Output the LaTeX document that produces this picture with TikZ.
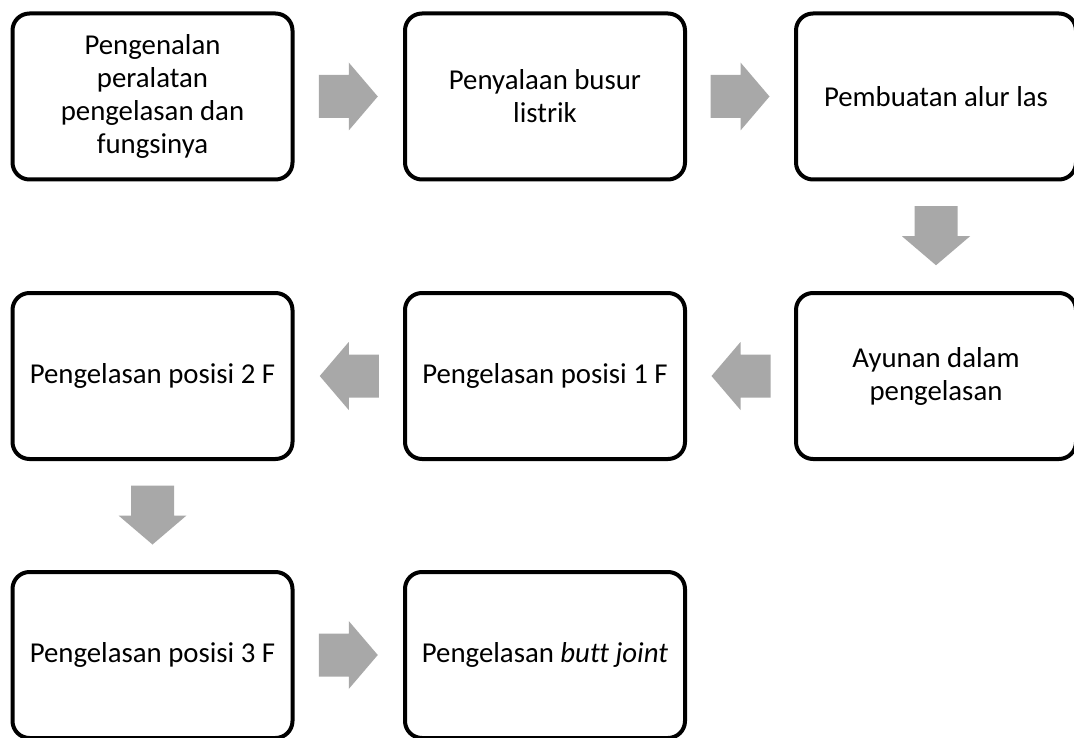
\documentclass[tikz,border=0pt]{standalone}
\usepackage{fontspec}
\setmainfont{Carlito}[Ligatures=NoCommon]
\usetikzlibrary{calc}
\definecolor{arrowgray}{RGB}{168,168,168}
\tikzset{
  stepbox/.style={draw=black, line width=4pt, rounded corners=17pt,
    minimum width=280pt, minimum height=166pt, align=center, fill=white,
    font=\fontsize{28.8}{33}\selectfont, inner sep=0pt},
  blockarrow/.pic={
    \fill[arrowgray] (-30,-21.5) -- (0,-21.5) -- (0,-34) -- (29,0)
      -- (0,34) -- (0,21.5) -- (-30,21.5) -- cycle;
  }
}
\begin{document}
\begin{tikzpicture}[x=1pt, y=-1pt]
  \useasboundingbox[fill=white] (0,0) rectangle (1074,738);

  % row 1
  \node[stepbox] (s1) at (152.5,96.5) {Pengenalan\\peralatan\\pengelasan dan\\fungsinya};
  \node[stepbox] (s2) at (545,96.5) {Penyalaan busur\\listrik};
  \node[stepbox] (s3) at (936,96.5) {Pembuatan alur las};
  % row 2
  \node[stepbox] (s4) at (936,376) {Ayunan dalam\\pengelasan};
  \node[stepbox] (s5) at (545,376) {Pengelasan posisi 1 F};
  \node[stepbox] (s6) at (152.5,376) {Pengelasan posisi 2 F};
  % row 3
  \node[stepbox] (s7) at (152.5,655) {Pengelasan posisi 3 F};
  \node[stepbox] (s8) at (545,655) {Pengelasan \textit{butt joint}};

  % block arrows between consecutive steps
  \path ($(s1.east)!0.5!(s2.west)$) pic {blockarrow};
  \path ($(s2.east)!0.5!(s3.west)$) pic {blockarrow};
  \path ($(s3.south)!0.5!(s4.north)$) pic[rotate=-90] {blockarrow};
  \path ($(s4.west)!0.5!(s5.east)$) pic[rotate=180] {blockarrow};
  \path ($(s5.west)!0.5!(s6.east)$) pic[rotate=180] {blockarrow};
  \path ($(s6.south)!0.5!(s7.north)$) pic[rotate=-90] {blockarrow};
  \path ($(s7.east)!0.5!(s8.west)$) pic {blockarrow};
\end{tikzpicture}
\end{document}
